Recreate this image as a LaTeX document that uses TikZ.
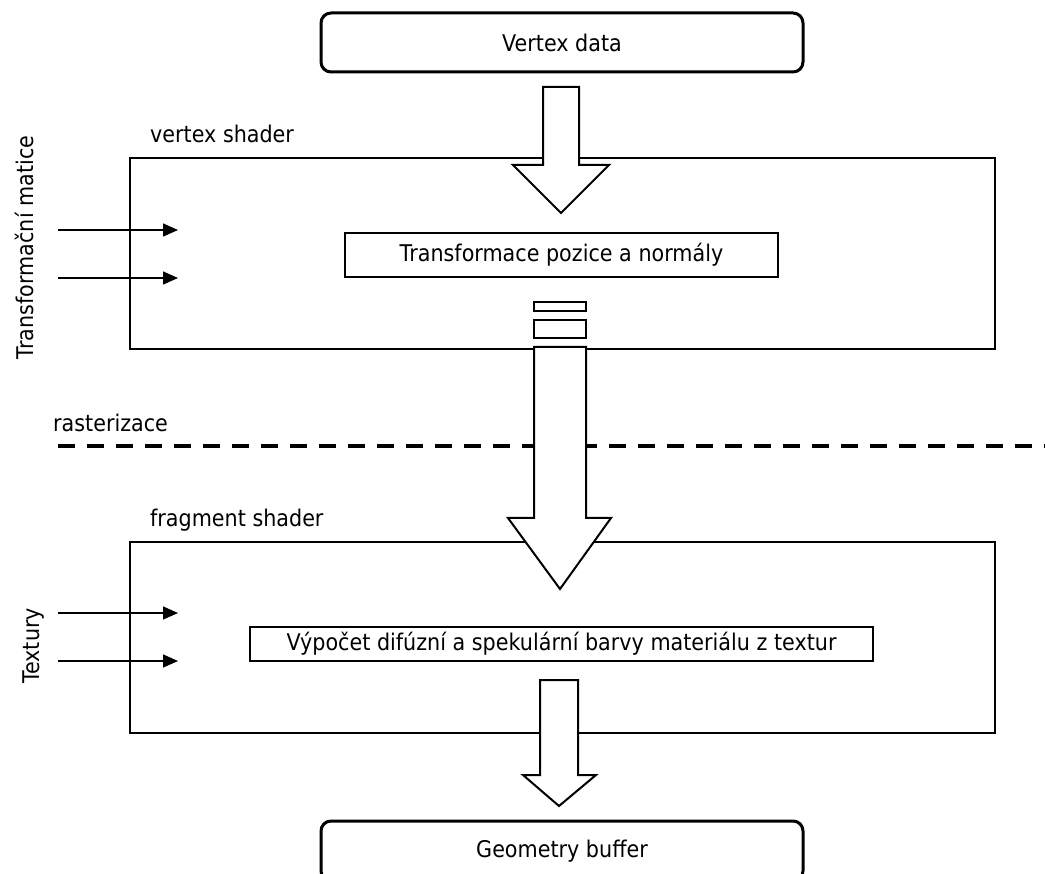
\documentclass[tikz,border=0pt]{standalone}
\usepackage{fontspec}
\setmainfont{DejaVu Sans}[FakeStretch=0.9]
\usetikzlibrary{arrows.meta}
\begin{document}
\begin{tikzpicture}[x=1pt,y=-1pt,
  txt/.style={font=\fontsize{23}{27}\selectfont},
  endbox/.style={txt,draw,line width=3pt,rounded corners=10pt,minimum width=482pt,minimum height=59pt},
  stage/.style={draw,line width=2pt,minimum width=865pt,minimum height=191pt},
  task/.style={txt,draw,line width=1.5pt,inner sep=2pt},
  slot/.style={draw,line width=1.5pt,minimum width=52pt,inner sep=0pt},
  hollow/.style={draw,fill=white,line width=2pt,line join=miter},
  feed/.style={line width=1.5pt,-{Triangle[length=15pt,width=13pt]}},
  boundary/.style={line width=3.5pt,dash pattern=on 17pt off 12pt},
  caption/.style={txt,inner sep=0pt,anchor=base west},
  sidelabel/.style={txt,inner sep=0pt,rotate=90,anchor=base},
]
\useasboundingbox (0,0) rectangle (1045,874);

% pipeline stages
\node[stage] (vs) at (562.5,253.5) {};
\node[stage] (fs) at (562.5,637.5) {};
\node[caption] (vslabel) at (150,143) {vertex shader};
\node[caption] (fslabel) at (150,527) {fragment shader};

% work done in each stage
\node[task, minimum width=433pt, minimum height=44pt] (vtask) at (561.5,255) {Transformace pozice a normály};
\node[task, minimum width=623pt, minimum height=34pt] (ftask) at (561.5,644) {Výpočet difúzní a spekulární barvy materiálu z textur};

% rasterization boundary
\coordinate (rasL) at (58,446);
\coordinate (rasR) at (1060,446);
\draw[boundary] (rasL) -- (rasR);
\node[caption] (raslabel) at (53,432) {rasterizace};

% input and output data
\node[endbox] (vdata) at (562,42.5) {Vertex data};
\node[endbox, minimum height=60pt] (gbuf) at (562,851) {Geometry buffer};

% data flow block arrows
\draw[hollow] (543,87) -- (579,87) -- (579,165) -- (609,165) -- (561,213)
  -- (513,165) -- (543,165) -- cycle;
\draw[hollow] (534,347) -- (586,347) -- (586,518) -- (611,518) -- (560,589)
  -- (508,518) -- (534,518) -- cycle;
\draw[hollow] (540,680) -- (578,680) -- (578,775) -- (596,775) -- (559,806)
  -- (523,775) -- (540,775) -- cycle;

% varyings passed to the rasterizer
\node[slot, minimum height=9pt] (slot1) at (560,306.5) {};
\node[slot, minimum height=18pt] (slot2) at (560,329) {};

% uniform inputs
\coordinate (mA) at (58,230);  \coordinate (mAe) at (178,230);
\coordinate (mB) at (58,278);  \coordinate (mBe) at (178,278);
\coordinate (tA) at (58,613);  \coordinate (tAe) at (178,613);
\coordinate (tB) at (58,661);  \coordinate (tBe) at (178,661);
\draw[feed] (mA) -- (mAe);
\draw[feed] (mB) -- (mBe);
\draw[feed] (tA) -- (tAe);
\draw[feed] (tB) -- (tBe);
\node[sidelabel] (mlabel) at (33,247.5) {Transformační matice};
\node[sidelabel] (tlabel) at (39,646) {Textury};
\end{tikzpicture}
\end{document}
